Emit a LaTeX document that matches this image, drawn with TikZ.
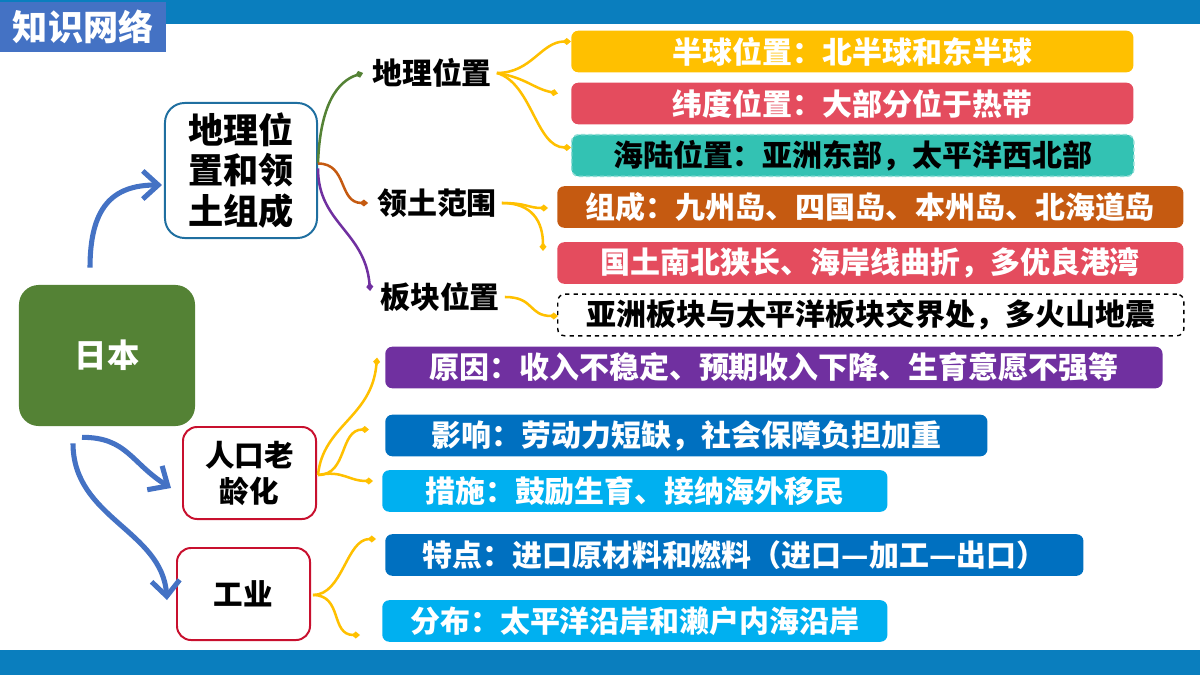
\documentclass[tikz,border=0pt]{standalone}
\usepackage{fontspec}
\setmainfont{Noto Sans CJK SC}
\usetikzlibrary{arrows.meta,calc}
\definecolor{barblue}{HTML}{0A7EBE}
\definecolor{titleblue}{HTML}{4472C4}
\definecolor{japgreen}{HTML}{548235}
\definecolor{arrowblue}{HTML}{4472C4}
\definecolor{boxblue}{HTML}{1F6FA0}
\definecolor{boxred}{HTML}{C8102E}
\definecolor{cyellow}{HTML}{FFC000}
\definecolor{cpink}{HTML}{E44C5E}
\definecolor{cteal}{HTML}{33C2B3}
\definecolor{corange}{HTML}{C55A11}
\definecolor{cpurple}{HTML}{7030A0}
\definecolor{cdblue}{HTML}{0070C0}
\definecolor{clblue}{HTML}{00B0F0}
\begin{document}
\begin{tikzpicture}[x=0.025cm,y=-0.025cm,
    leaf/.style={rounded corners=5pt,anchor=west,minimum height=1.04cm,inner sep=0pt,text=white,
        font=\bfseries\fontsize{21.3}{24}\selectfont},
    topic/.style={font=\bfseries\fontsize{21.3}{24}\selectfont},
    branch/.style={draw,line width=1.4pt,fill=white,align=center,inner sep=0pt},
    link/.style={line width=1.8pt,-{Diamond[length=6pt,width=5pt]}},
    bigarrow/.style={line width=3.6pt,arrowblue,-{Straight Barb[length=11pt,width=20pt]}}]
    \useasboundingbox (0,0) rectangle (1200,675);
    \fill[barblue] (0,0) rectangle (1200,24);
    \fill[barblue] (0,650) rectangle (1200,675);
    \node[fill=titleblue,text=white,minimum width=4.15cm,minimum height=1.25cm,anchor=north west,inner sep=0pt,
        font=\bfseries\fontsize{25}{28}\selectfont] (title) at (0,2) {知识网络};

    \node[fill=japgreen,rounded corners=14pt,minimum width=4.4cm,minimum height=3.525cm,text=white,
        font=\bfseries\fontsize{23}{26}\selectfont] (japan) at (107,355.5) {日本};
    \node[branch,draw=boxblue,rounded corners=14pt,minimum width=3.8cm,minimum height=3.375cm,
        font=\bfseries\fontsize{25}{29}\selectfont] (geo) at (241,170.5) {地理位\\置和领\\土组成};
    \node[branch,draw=boxred,rounded corners=10pt,minimum width=3.325cm,minimum height=2.3cm,
        font=\bfseries\fontsize{21}{25.6}\selectfont] (aging) at (249.5,473) {人口老\\龄化};
    \node[branch,draw=boxred,rounded corners=10pt,minimum width=3.325cm,minimum height=2.3cm,
        font=\bfseries\fontsize{21}{25.6}\selectfont] (industry) at (243.5,594) {工业};

    \node[topic] (loc) at (432,73) {地理位置};
    \node[topic] (terr) at (437,203) {领土范围};
    \node[topic] (plate) at (440,297) {板块位置};

    \node[leaf,fill=cyellow,minimum width=14.05cm] (hemi) at (571,51.5) {半球位置：北半球和东半球};
    \node[leaf,fill=cpink,minimum width=14.05cm] (lat) at (571,103.5) {纬度位置：大部分位于热带};
    \node[leaf,fill=cteal,draw=cteal!55!white,densely dashed,line width=1pt,text=black,minimum width=14.05cm] (sea) at (571,155.5) {海陆位置：亚洲东部，太平洋西北部};
    \node[leaf,fill=corange,minimum width=15.65cm] (comp) at (557,207) {组成：九州岛、四国岛、本州岛、北海道岛};
    \node[leaf,fill=cpink,minimum width=15.65cm] (shape) at (557,263) {国土南北狭长、海岸线曲折，多优良港湾};
    \node[leaf,fill=white,draw=black,dashed,line width=1pt,text=black,minimum width=15.65cm] (edge) at (557,315) {亚洲板块与太平洋板块交界处，多火山地震};
    \node[leaf,fill=cpurple,minimum width=19.425cm] (cause) at (385,367.5) {原因：收入不稳定、预期收入下降、生育意愿不强等};
    \node[leaf,fill=cdblue,minimum width=15.05cm] (effect) at (385,435.5) {影响：劳动力短缺，社会保障负担加重};
    \node[leaf,fill=clblue,minimum width=12.625cm] (measure) at (382,491) {措施：鼓励生育、接纳海外移民};
    \node[leaf,fill=cdblue,minimum width=17.45cm] (feature) at (385,555) {特点：进口原材料和燃料（进口—加工—出口）};
    \node[leaf,fill=clblue,minimum width=12.625cm] (spread) at (382,621) {分布：太平洋沿岸和濑户内海沿岸};

    \draw[bigarrow] ($(japan.north)+(-17,-17)$) .. controls +(0,-60) and +(-50,0) .. ($(geo.west)+(-2,14.5)$);
    \draw[bigarrow] ($(japan.south)+(-25,11)$) .. controls +(45,0) and +(-40,-25) .. ($(aging.west)+(-11,15)$);
    \draw[bigarrow] ($(japan.south)+(-34,17)$) .. controls +(0,75) and +(-5,-70) .. ($(industry.west)+(-9,6)$);

    \draw[link,japgreen] ($(geo.east)+(0,-7)$) .. controls +(2,-60) and +(-25,8) .. ($(loc.west)+(-4,0)$);
    \draw[link,corange] ($(geo.east)+(0,-7)$) .. controls +(30,0) and +(-30,0) .. ($(terr.west)+(-4,0)$);
    \draw[link,cpurple] ($(geo.east)+(0,-2)$) .. controls +(0,55) and +(-5,-60) .. ($(plate.west)+(-5,-6)$);

    \draw[link,cyellow] (loc.east) .. controls +(35,0) and +(-30,0) .. ($(hemi.west)+(0,-10)$);
    \draw[link,cyellow] (loc.east) .. controls +(30,5) and +(-25,-5) .. ($(lat.west)+(-13,-10)$);
    \draw[link,cyellow] (loc.east) .. controls +(35,10) and +(-35,0) .. ($(sea.west)+(0,-8)$);
    \draw[link,cyellow] (terr.east) .. controls +(25,0) and +(-20,0) .. ($(comp.west)+(-9,1)$);
    \draw[link,cyellow] (terr.east) .. controls +(30,0) and +(0,-30) .. ($(shape.west)+(-14,-12)$);
    \draw[link,cyellow] (plate.east) .. controls +(30,0) and +(-30,0) .. ($(edge.west)+(1,1)$);
    \draw[link,cyellow] ($(aging.east)+(1,2)$) .. controls +(5,-50) and +(-5,60) .. ($(cause.west)+(-8,-10)$);
    \draw[link,cyellow] ($(aging.east)+(1,2)$) .. controls +(30,0) and +(-30,0) .. ($(effect.west)+(-16,-6)$);
    \draw[link,cyellow] ($(aging.east)+(1,2)$) .. controls +(25,-5) and +(-25,0) .. ($(measure.west)+(-9,-10)$);
    \draw[link,cyellow] ($(industry.east)+(2,1)$) .. controls +(30,0) and +(-30,0) .. ($(feature.west)+(-9,-16)$);
    \draw[link,cyellow] ($(industry.east)+(2,1)$) .. controls +(30,0) and +(-30,0) .. ($(spread.west)+(-22,14)$);
\end{tikzpicture}
\end{document}
